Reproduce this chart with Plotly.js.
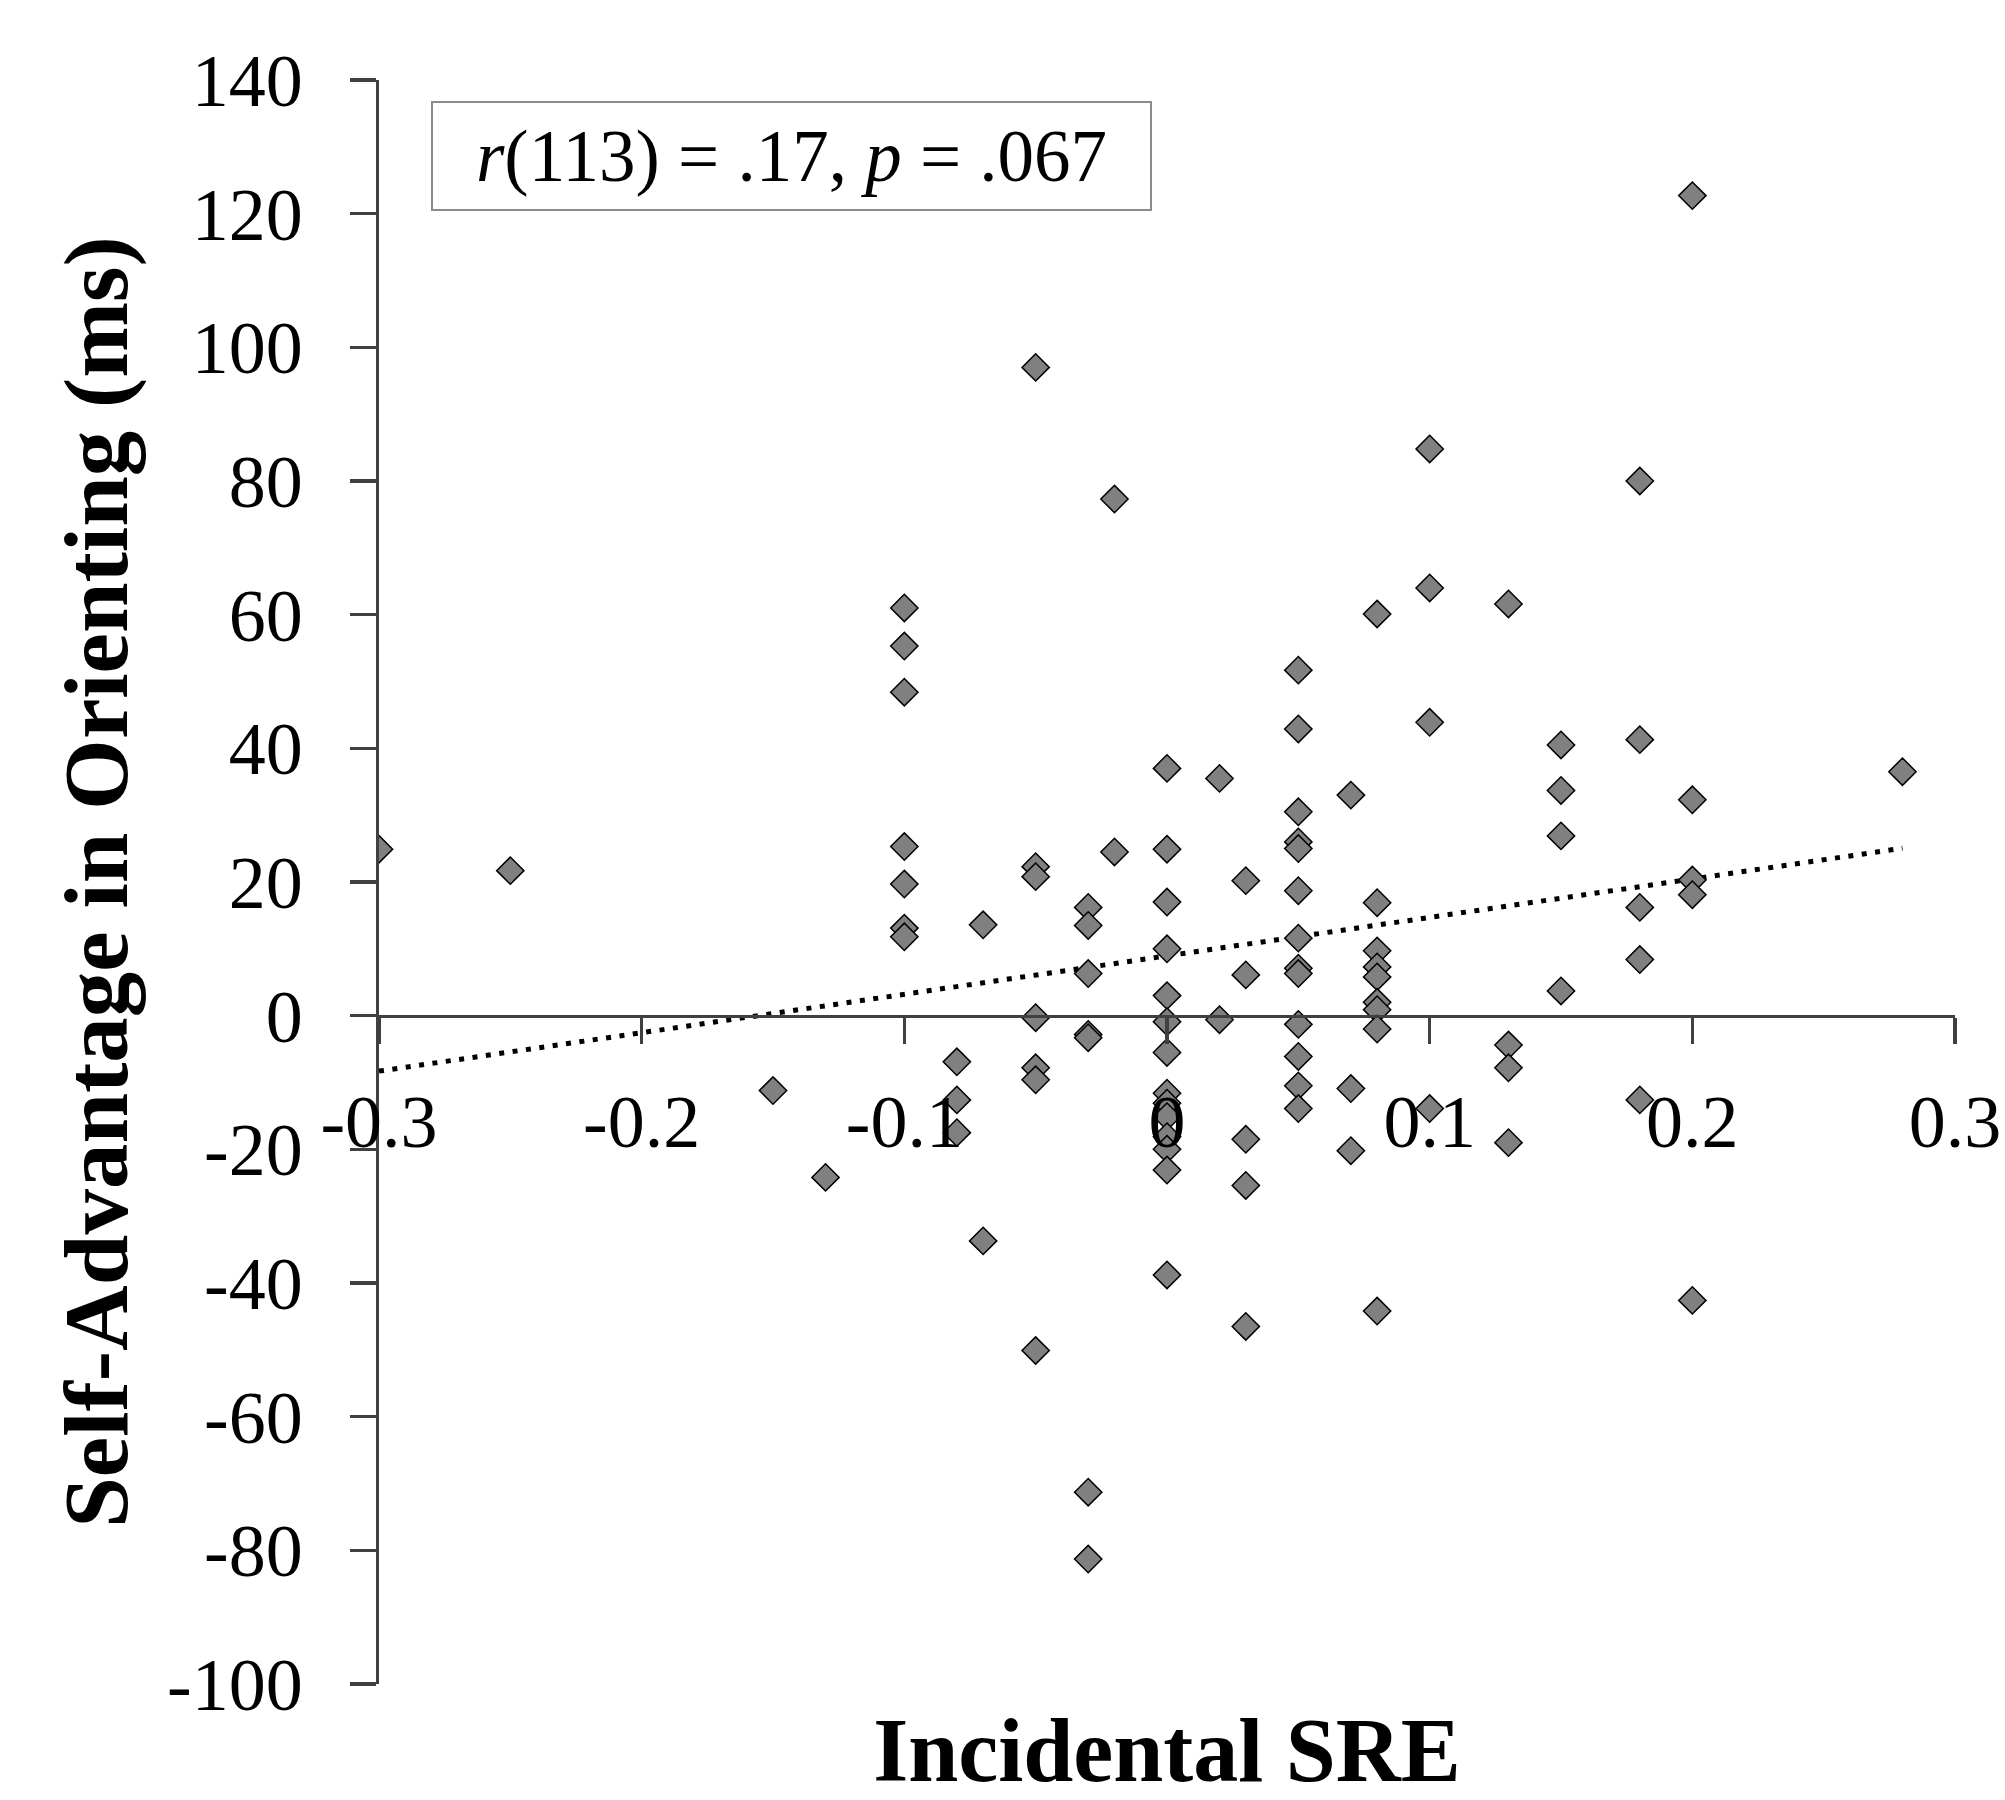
<!DOCTYPE html>
<html>
<head>
<meta charset="utf-8">
<script src="https://cdn.plot.ly/plotly-3.0.1.min.js"></script>
<style>
html,body{margin:0;padding:0;background:#ffffff;}
#chart{width:2005px;height:1800px;}
</style>
</head>
<body>
<div id="chart"></div>
<script>
// ---- data ----
const incidentalSRE = [
  -0.30,
  -0.25,
  -0.15,
  -0.13,
  -0.10, -0.10, -0.10, -0.10, -0.10, -0.10, -0.10,
  -0.08, -0.08, -0.08,
  -0.07, -0.07,
  -0.05, -0.05, -0.05, -0.05, -0.05, -0.05, -0.05,
  -0.03, -0.03, -0.03, -0.03, -0.03, -0.03, -0.03,
  -0.02, -0.02,
  0, 0, 0, 0, 0, 0, 0, 0, 0, 0, 0, 0, 0, 0,
  0.02, 0.02,
  0.03, 0.03, 0.03, 0.03, 0.03,
  0.05, 0.05, 0.05, 0.05, 0.05, 0.05, 0.05, 0.05, 0.05, 0.05, 0.05, 0.05, 0.05,
  0.07, 0.07, 0.07,
  0.08, 0.08, 0.08, 0.08, 0.08, 0.08, 0.08, 0.08, 0.08,
  0.10, 0.10, 0.10, 0.10,
  0.13, 0.13, 0.13, 0.13,
  0.15, 0.15, 0.15, 0.15,
  0.18, 0.18, 0.18, 0.18, 0.18,
  0.20, 0.20, 0.20, 0.20, 0.20,
  0.28
];
const selfAdvantageMs = [
  24.9,
  21.7,
  -11.2,
  -24.2,
  61.0, 55.3, 48.4, 25.3, 19.7, 13.1, 11.8,
  -6.9, -12.6, -17.5,
  13.6, -33.7,
  97.0, 22.3, 20.8, -0.3, -7.8, -9.6, -50.1,
  16.2, 13.5, 6.3, -2.8, -3.3, -71.3, -81.3,
  77.3, 24.5,
  37.0, 24.9, 17.0, 10.0, 3.0, -0.9, -5.5, -11.6, -13.1, -15.1, -18.1, -20.0, -23.1, -38.8,
  35.5, -0.6,
  20.2, 6.1, -18.5, -25.4, -46.5,
  51.7, 42.9, 30.5, 26.0, 25.0, 18.7, 11.6, 7.1, 6.3, -1.3, -6.1, -10.5, -13.9,
  33.0, -10.9, -20.2,
  60.1, 16.9, 9.7, 7.3, 5.8, 2.0, 0.9, -2.0, -44.2,
  84.8, 64.0, 43.9, -13.9,
  61.6, -4.4, -7.8, -19.0,
  40.5, 33.7, 26.9, 3.7,
  80.0, 41.3, 16.2, 8.4, -12.6,
  122.7, 32.3, 20.3, 18.1, -42.6,
  36.5
];
// linear trend line
const trendSlope = 57.5;
const trendIntercept = 8.95;

// axes
const xRange = [-0.3, 0.3];
const yRange = [-100, 140];
const xTickVals = [-0.3, -0.2, -0.1, 0, 0.1, 0.2, 0.3];
const xTickText = ['-0.3', '-0.2', '-0.1', '0', '0.1', '0.2', '0.3'];
const yTickVals = [-100, -80, -60, -40, -20, 0, 20, 40, 60, 80, 100, 120, 140];
const yTickText = ['-100', '-80', '-60', '-40', '-20', '0', '20', '40', '60', '80', '100', '120', '140'];

const xTitle = 'Incidental SRE';
const yTitle = 'Self-Advantage in Orienting (ms)';
const statText = '<i>r</i>(113) = .17, <i>p</i> = .067';

// ---- build ----
const xMin = Math.min(...incidentalSRE);
const xMax = Math.max(...incidentalSRE);
const trendX = [xMin, xMax];
const trendY = trendX.map(v => trendIntercept + trendSlope * v);

const axisColor = '#404040';
const fontFam = '"Liberation Serif", "Times New Roman", serif';

const traces = [
  {
    type: 'scatter', mode: 'lines',
    x: trendX, y: trendY,
    line: {color: '#000000', width: 5, dash: '5px,8.5px'},
    hoverinfo: 'skip'
  },
  {
    type: 'scatter', mode: 'markers',
    x: incidentalSRE, y: selfAdvantageMs,
    marker: {symbol: 'diamond', size: 21, color: '#808080', line: {color: '#000000', width: 1.5}}
  }
];

const layout = {
  width: 2005, height: 1800,
  margin: {l: 379, r: 50, t: 80, b: 116, pad: 0},
  paper_bgcolor: '#ffffff', plot_bgcolor: '#ffffff',
  showlegend: false,
  font: {family: fontFam, color: '#000000', size: 74},
  xaxis: {
    range: xRange, anchor: 'free',
    position: (0 - yRange[0]) / (yRange[1] - yRange[0]),
    showline: true, linecolor: axisColor, linewidth: 3.5,
    ticks: 'outside', ticklen: 26, tickwidth: 3.5, tickcolor: axisColor,
    tickmode: 'array', tickvals: xTickVals, ticktext: xTickText,
    tickfont: {family: fontFam, size: 74, color: '#000000'},
    ticklabelstandoff: 14,
    showgrid: false, zeroline: false,
    title: {text: xTitle, font: {family: fontFam, size: 90, weight: 'bold', color: '#000000'}, standoff: 612}
  },
  yaxis: {
    range: yRange,
    showline: true, linecolor: axisColor, linewidth: 3.5,
    ticks: 'outside', ticklen: 26, tickwidth: 3.5, tickcolor: axisColor,
    tickmode: 'array', tickvals: yTickVals, ticktext: yTickText,
    tickfont: {family: fontFam, size: 74, color: '#000000'},
    ticklabelstandoff: 32,
    showgrid: false, zeroline: false,
    title: {text: yTitle, font: {family: fontFam, size: 91, weight: 'bold', color: '#000000'}, standoff: 10}
  },
  annotations: [{
    xref: 'paper', yref: 'paper', x: 0.262, y: 0.9526,
    xanchor: 'center', yanchor: 'middle',
    text: statText, showarrow: false,
    font: {family: fontFam, size: 73, color: '#000000'},
    bgcolor: '#ffffff', bordercolor: '#8c8c8c', borderwidth: 2, borderpad: 0,
    width: 717, height: 106, align: 'center', valign: 'middle'
  }]
};

Plotly.newPlot('chart', traces, layout, {staticPlot: true, displayModeBar: false});
</script>
</body>
</html>
